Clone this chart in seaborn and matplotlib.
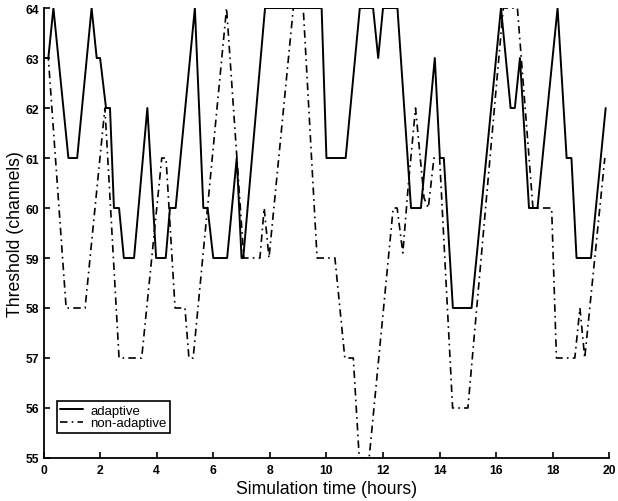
import matplotlib
matplotlib.use("Agg")
import matplotlib.pyplot as plt
import seaborn as sns
import pandas as pd

# Threshold trajectories (hours, channels)
adaptive_t = [0, 0.17, 0.35, 0.88, 1.19, 1.70, 1.88, 2.0, 2.21, 2.35, 2.49, 2.67,
              2.84, 3.20, 3.67, 3.98, 4.32, 4.47, 4.67, 5.35, 5.65, 5.80, 6.0, 6.49,
              6.83, 7.0, 7.06, 7.83, 9.83, 10.0, 10.68, 11.18, 11.65, 11.83, 12.0,
              12.51, 12.99, 13.34, 13.83, 14.01, 14.15, 14.47, 15.13, 16.17, 16.51,
              16.66, 16.84, 17.16, 17.46, 18.17, 18.49, 18.66, 18.84, 19.35, 19.87]
adaptive_v = [63, 63, 64, 61, 61, 64, 63, 63, 62, 62, 60, 60,
              59, 59, 62, 59, 59, 60, 60, 64, 60, 60, 59, 59,
              61, 59, 59, 64, 64, 61, 61, 64, 64, 63, 64,
              64, 60, 60, 63, 61, 61, 58, 58, 64, 62,
              62, 63, 60, 60, 64, 61, 61, 59, 59, 62]

nonadaptive_t = [0, 0.17, 0.80, 1.47, 2.17, 2.67, 3.47, 4.18, 4.33, 4.65, 5.0,
                 5.14, 5.29, 6.47, 7.08, 7.65, 7.80, 7.97, 8.83, 9.18, 9.67, 10.3,
                 10.65, 10.95, 11.16, 11.51, 12.36, 12.50, 12.70, 12.90, 13.15,
                 13.45, 13.60, 13.80, 14.0, 14.46, 15.0, 16.25, 16.75, 17.30,
                 17.96, 18.13, 18.78, 18.96, 19.13, 19.84]
nonadaptive_v = [63, 63, 58, 58, 62, 57, 57, 61, 61, 58, 58,
                 57, 57, 64, 59, 59, 60, 59, 64, 64, 59, 59,
                 57, 57, 55, 55, 60, 60, 59.1, 60.5, 62,
                 60.2, 60, 61, 61, 56, 56, 64, 64, 60,
                 60, 57, 57, 58, 57, 61]

y_ticks = [55, 56, 57, 58, 59, 60, 61, 62, 63, 64]
x_ticks = [0, 2, 4, 6, 8, 10, 12, 14, 16, 18, 20]

adaptive = pd.DataFrame({"t": adaptive_t, "v": adaptive_v})
nonadaptive = pd.DataFrame({"t": nonadaptive_t, "v": nonadaptive_v})

sns.set_style("ticks")
plt.rcParams["font.family"] = ["Liberation Sans", "DejaVu Sans"]
plt.rcParams["text.color"] = "black"
plt.rcParams["axes.labelcolor"] = "black"

fig = plt.figure(figsize=(6.18, 5.02), dpi=100)
ax = fig.add_axes([0.0704, 0.0857, 0.9156, 0.8963])

sns.lineplot(data=adaptive, x="t", y="v", sort=False, estimator=None,
             color="black", linewidth=1.4, label="adaptive", ax=ax)
sns.lineplot(data=nonadaptive, x="t", y="v", sort=False, estimator=None,
             color="black", linewidth=1.2, linestyle=(0, (4.5, 2.5, 1, 2.5)),
             label="non-adaptive", ax=ax)

ax.set_xlim(0, 20)
ax.set_ylim(55, 64)
ax.set_xticks(x_ticks)
ax.set_yticks(y_ticks)
ax.tick_params(direction="in", length=4, width=1.2, colors="black",
               labelsize=8.7)
ax.tick_params(axis="x", pad=4.5)
ax.tick_params(axis="y", pad=3)
for lab in ax.get_xticklabels() + ax.get_yticklabels():
    lab.set_fontweight("bold")

sns.despine(ax=ax)
for side in ("left", "bottom"):
    ax.spines[side].set_linewidth(1.3)
    ax.spines[side].set_color("black")

ax.set_xlabel("Simulation time (hours)", fontsize=12.7, labelpad=3,
              color="black")
ax.set_ylabel("Threshold (channels)", fontsize=12.7, labelpad=1.5,
              color="black")

leg = ax.legend(loc="lower left", bbox_to_anchor=(0.024, 0.056),
                borderaxespad=0, fontsize=9.5, handlelength=1.7,
                frameon=True, fancybox=False, edgecolor="black",
                borderpad=0.25, labelspacing=0.05, handletextpad=0.55)
leg.get_frame().set_linewidth(1.2)
leg.get_frame().set_alpha(1)
for txt in leg.get_texts():
    txt.set_color("black")

fig.savefig("out.png", dpi=100)
